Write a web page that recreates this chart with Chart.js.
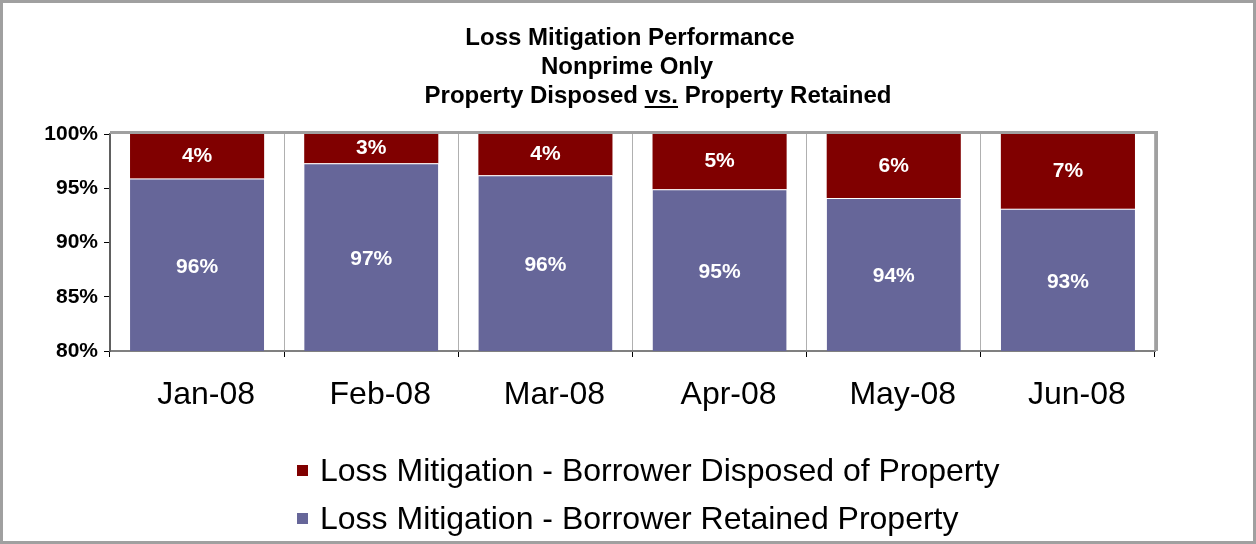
<!DOCTYPE html>
<html>
<head>
<meta charset="utf-8">
<script src="https://cdn.jsdelivr.net/npm/chart.js@4/dist/chart.umd.min.js"></script>
<style>
  html, body { margin: 0; padding: 0; background: #fff; }
  #wrap {
    width: 1256px; height: 544px; box-sizing: border-box;
    border: 3px solid #a0a0a0; background: #fff;
  }
  #chart { display: block; }
</style>
</head>
<body>
<div id="wrap"><canvas id="chart" width="1250" height="538"></canvas></div>
<script>
// --- data ---
const categories = ['Jan-08', 'Feb-08', 'Mar-08', 'Apr-08', 'May-08', 'Jun-08'];
const retainedPct = [95.9, 97.3, 96.2, 94.9, 94.1, 93.1];
const disposedPct = [4.1, 2.7, 3.8, 5.1, 5.9, 6.9];
const yTicks = [80, 85, 90, 95, 100];
const titleLines = ['Loss Mitigation Performance', 'Nonprime Only', 'Property Disposed vs. Property Retained'];
const seriesNames = ['Loss Mitigation - Borrower Retained Property', 'Loss Mitigation - Borrower Disposed of Property'];

const RED = '#800000';
const BLUE = '#666699';
const FONT = '"Liberation Sans", Arial, sans-serif';

// title, with "vs." underlined
const titlePlugin = {
  id: 'titleLines',
  afterDraw(chart) {
    const ctx = chart.ctx;
    const centers = [627, 624, 655];
    const ys = [35, 64, 93];
    ctx.save();
    ctx.font = 'bold 24px ' + FONT;
    ctx.fillStyle = '#000';
    ctx.textBaseline = 'middle';
    ctx.textAlign = 'left';
    titleLines.forEach((line, i) => {
      const w = ctx.measureText(line).width;
      let x = centers[i] - w / 2;
      ctx.fillText(line, x, ys[i]);
      const k = line.indexOf('vs.');
      if (k >= 0) {
        const x0 = x + ctx.measureText(line.slice(0, k)).width;
        const x1 = x0 + ctx.measureText('vs.').width;
        ctx.fillRect(x0, ys[i] + 10, x1 - x0, 2);
      }
    });
    ctx.restore();
  }
};

// top / right plot border
const frame = {
  id: 'frame',
  afterDatasetsDraw(chart) {
    const { ctx, chartArea: a } = chart;
    ctx.save();
    ctx.strokeStyle = '#a0a0a0';
    ctx.lineWidth = 3;
    ctx.beginPath();
    ctx.moveTo(a.left, a.top - 1.5);
    ctx.lineTo(a.right + 1.5, a.top - 1.5);
    ctx.lineTo(a.right + 1.5, a.bottom);
    ctx.stroke();
    ctx.restore();
  }
};

// value labels centred in each visible segment
const segLabels = {
  id: 'segLabels',
  afterDatasetsDraw(chart) {
    const { ctx, chartArea: a } = chart;
    ctx.save();
    ctx.font = 'bold 21px ' + FONT;
    ctx.fillStyle = '#fff';
    ctx.textAlign = 'center';
    ctx.textBaseline = 'middle';
    chart.data.datasets.forEach((ds, i) => {
      chart.getDatasetMeta(i).data.forEach((bar, j) => {
        const top = Math.max(Math.min(bar.y, bar.base), a.top);
        const bot = Math.min(Math.max(bar.y, bar.base), a.bottom);
        const dy = i === 0 ? 2 : 0;
        ctx.fillText(Math.round(ds.data[j]) + '%', bar.x, (top + bot) / 2 + dy);
      });
    });
    ctx.restore();
  }
};

// legend, disposed on top, retained below
const legendRows = {
  id: 'legendRows',
  afterDraw(chart) {
    const ctx = chart.ctx;
    const rows = chart.data.datasets.slice().reverse();
    ctx.save();
    ctx.font = '32px ' + FONT;
    ctx.textBaseline = 'middle';
    ctx.textAlign = 'left';
    rows.forEach((ds, i) => {
      const y = 468 + i * 48;
      ctx.fillStyle = ds.backgroundColor;
      ctx.fillRect(294, y - 6, 11, 11);
      ctx.fillStyle = '#000';
      ctx.fillText(ds.label, 317, y + 1);
    });
    ctx.restore();
  }
};

new Chart(document.getElementById('chart'), {
  type: 'bar',
  data: {
    labels: categories,
    datasets: [
      {
        label: seriesNames[0],
        data: retainedPct,
        backgroundColor: BLUE,
        borderColor: '#fff',
        borderWidth: { top: 1, left: 0, right: 0, bottom: 0 },
        borderSkipped: false
      },
      {
        label: seriesNames[1],
        data: disposedPct,
        backgroundColor: RED,
        borderWidth: 0
      }
    ]
  },
  options: {
    responsive: false,
    animation: false,
    layout: { padding: { top: 131, right: 98, left: 0, bottom: 0 } },
    datasets: { bar: { barPercentage: 0.77, categoryPercentage: 1 } },
    plugins: {
      legend: { display: false },
      title: { display: false },
      tooltip: { enabled: false }
    },
    scales: {
      x: {
        stacked: true,
        offset: true,
        grid: { offset: true, color: '#b0b0b0', lineWidth: 1, tickLength: 6, tickColor: '#000' },
        border: { color: '#808080', width: 2 },
        ticks: { color: '#000', font: { family: FONT, size: 32 }, padding: 19, labelOffset: 9 },
        afterFit(scale) { scale.height = 190; }
      },
      y: {
        stacked: true,
        min: yTicks[0],
        max: yTicks[yTicks.length - 1],
        afterBuildTicks(scale) { scale.ticks = yTicks.map(v => ({ value: v })); },
        grid: { drawOnChartArea: false, tickLength: 6, tickColor: '#000' },
        border: { color: '#606060', width: 2 },
        ticks: {
          color: '#000',
          padding: 6,
          font: { family: FONT, size: 21, weight: 'bold' },
          callback: v => v + '%'
        },
        afterFit(scale) { scale.width = 107; }
      }
    }
  },
  plugins: [titlePlugin, frame, segLabels, legendRows]
});
</script>
</body>
</html>
